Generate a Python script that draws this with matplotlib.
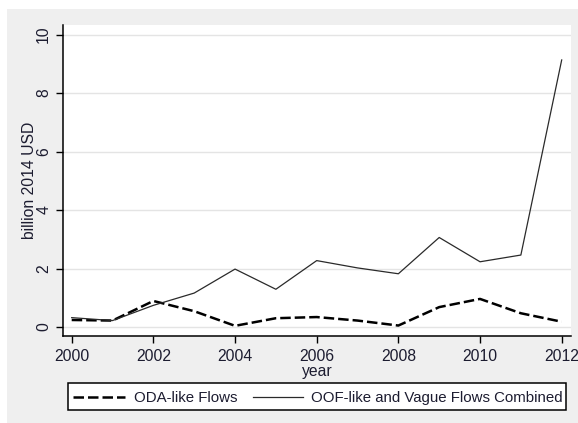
import matplotlib
matplotlib.use("Agg")
import matplotlib.pyplot as plt
from matplotlib.patches import Rectangle
from matplotlib.lines import Line2D

plt.rcParams['font.family'] = ['Liberation Sans', 'DejaVu Sans']

years = [2000, 2001, 2002, 2003, 2004, 2005, 2006, 2007, 2008, 2009, 2010, 2011, 2012]
oda_like = [0.24, 0.22, 0.89, 0.54, 0.04, 0.30, 0.34, 0.22, 0.05, 0.68, 0.96, 0.47, 0.18]
oof_vague = [0.32, 0.22, 0.74, 1.16, 1.98, 1.29, 2.27, 2.02, 1.82, 3.06, 2.23, 2.46, 9.13]
x_ticks = [2000, 2002, 2004, 2006, 2008, 2010, 2012]
y_ticks = [0, 2, 4, 6, 8, 10]
legend_labels = ["ODA-like Flows", "OOF-like and Vague Flows Combined"]

W, H = 578, 423
TXT = '#1c1c30'
FS = 11.3
LFS = 10.8
ODA_STYLE = dict(color='black', lw=1.8, linestyle=(0, (4.2, 1.6)))
OOF_STYLE = dict(color='#2a2a2a', lw=0.9, linestyle='-')


def px(x, y):
    """Pixel position (from top-left) to figure fraction."""
    return x / W, 1 - y / H


fig = plt.figure(figsize=(W / 100, H / 100), dpi=100)
fig.patch.set_facecolor('white')
# grey graph region
fig.patches.append(Rectangle((7 / W, 0), 1 - 7 / W, (H - 9) / H,
                             transform=fig.transFigure, facecolor='#efefef',
                             edgecolor='none', zorder=0))

ax = fig.add_axes([63 / W, (H - 335.7) / H, (571 - 63) / W, (335.7 - 25) / H])
ax.set_facecolor('white')
ax.set_zorder(1)

ax.plot(years, oda_like, label=legend_labels[0], zorder=3, **ODA_STYLE)
ax.plot(years, oof_vague, label=legend_labels[1], zorder=3, **OOF_STYLE)

ax.set_xlim(2000 - 8.7 / 40.83, 2012 + 9.3 / 40.83)
ax.set_ylim(-8.7 / 29.25, (327 - 25) / 29.25)
ax.set_xticks(x_ticks)
ax.set_yticks(y_ticks)
ax.set_xticklabels([str(v) for v in x_ticks], fontsize=FS, color=TXT)
ax.set_yticklabels([str(v) for v in y_ticks], fontsize=FS, color=TXT,
                   rotation=90, va='center')
ax.tick_params(axis='both', direction='out', length=5, width=1, color='black')
ax.tick_params(axis='x', pad=4.5)
ax.tick_params(axis='y', pad=3.5)

ax.yaxis.grid(True, color='#e4e4e4', lw=1)
ax.set_axisbelow(True)
for s in ['top', 'right']:
    ax.spines[s].set_visible(False)
for s in ['left', 'bottom']:
    ax.spines[s].set_color('black')
    ax.spines[s].set_linewidth(1.1)

fig.text(*px(29.5, 180), "billion 2014 USD", rotation=90, ha='center',
         va='center', fontsize=FS, color=TXT)
fig.text(*px(317, 364), "year", ha='center', va='top',
         fontsize=FS, color=TXT)

# legend box below the plot, two keys on one row
x0, y0 = px(68, 410)
x1, y1 = px(566, 383)
fig.patches.append(Rectangle((x0, y0), x1 - x0, y1 - y0,
                             transform=fig.transFigure, facecolor='white',
                             edgecolor='black', lw=1.1, zorder=2))
ky = 396.5
key_spans = [(73, 125, 134), (253, 303, 311)]
for (ka, kb, tx), label, style in zip(key_spans, legend_labels,
                                      [ODA_STYLE, OOF_STYLE]):
    xa, yk = px(ka, ky)
    xb, _ = px(kb, ky)
    fig.add_artist(Line2D([xa, xb], [yk, yk], transform=fig.transFigure,
                          zorder=3, **style))
    fig.text(*px(tx, ky), label, ha='left', va='center_baseline',
             fontsize=LFS, color=TXT, zorder=3)

fig.savefig('out.png', dpi=100, facecolor=fig.get_facecolor())
